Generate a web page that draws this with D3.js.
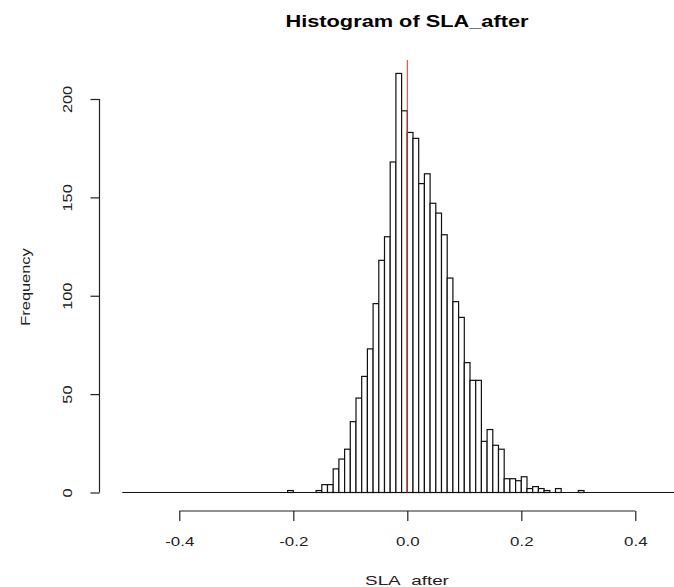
<!DOCTYPE html>
<html>
<head>
<meta charset="utf-8">
<script src="https://cdn.jsdelivr.net/npm/d3@7"></script>
<style>
  body { margin: 0; background: #fff; }
  svg text { font-family: "Liberation Sans", Arial, sans-serif; fill: #222; }
</style>
</head>
<body>
<div id="chart"></div>
<script>
// left edges of the 0.01 wide bins
var binStarts = [-0.21, -0.20, -0.19, -0.18, -0.17, -0.16, -0.15, -0.14, -0.13, -0.12,
                 -0.11, -0.10, -0.09, -0.08, -0.07, -0.06, -0.05, -0.04, -0.03, -0.02,
                 -0.01, 0.00, 0.01, 0.02, 0.03, 0.04, 0.05, 0.06, 0.07, 0.08,
                 0.09, 0.10, 0.11, 0.12, 0.13, 0.14, 0.15, 0.16, 0.17, 0.18,
                 0.19, 0.20, 0.21, 0.22, 0.23, 0.24, 0.25, 0.26, 0.27, 0.28,
                 0.29, 0.30]
var binWidth = 0.01

var counts = [1, 0, 0, 0, 0, 1, 4, 4, 12, 17,
              22, 36, 48, 59, 73, 96, 118, 130, 168, 213,
              194, 183, 180, 157, 162, 147, 142, 131, 109, 97,
              89, 66, 57, 57, 26, 32, 24, 22, 7, 7,
              6, 8, 2, 3, 2, 1, 0, 2, 0, 0,
              0, 1]

var xTicks = [-0.4, -0.2, 0, 0.2, 0.4]
var xTickLabels = ["-0.4", "-0.2", "0.0", "0.2", "0.4"]
var yTicks = [0, 50, 100, 150, 200]
var yTickLabels = ["0", "50", "100", "150", "200"]
var refLine = 0

var W = 674, H = 587

var svg = d3.select("#chart").append("svg").attr("width", W).attr("height", H)

var x = d3.scaleLinear().domain([-0.5, 0.5]).range([122.3, 692.3])
var y = d3.scaleLinear().domain([0, 200]).range([492.5, 99])

// stretch text a bit wider, the original render has wide glyphs
function stretch(sel, k) {
  sel.each(function () {
    var w = this.getComputedTextLength()
    d3.select(this).attr("textLength", w * k).attr("lengthAdjust", "spacingAndGlyphs")
  })
}

// baseline
svg.append("line")
  .attr("x1", x(-0.5)).attr("x2", W)
  .attr("y1", y(0)).attr("y2", y(0))
  .style("stroke", "#111").style("stroke-width", 1.2)

// bars
svg.selectAll("rect.bar")
  .data(counts)
  .enter().append("rect")
  .attr("class", "bar")
  .attr("x", function (d, i) { return x(binStarts[i]) })
  .attr("width", function (d, i) { return x(binStarts[i] + binWidth) - x(binStarts[i]) })
  .attr("y", function (d) { return y(d) })
  .attr("height", function (d) { return y(0) - y(d) })
  .style("fill", "#fff")
  .style("stroke", "#111")
  .style("stroke-width", 1.2)

// red line at zero
svg.append("line")
  .attr("x1", x(refLine)).attr("x2", x(refLine))
  .attr("y1", 60).attr("y2", y(0))
  .style("stroke", "#e03030").style("stroke-width", 1)

// x axis
var xAxis = d3.axisBottom(x)
  .tickValues(xTicks)
  .tickSize(10)
  .tickPadding(16)
  .tickFormat(function (d, i) { return xTickLabels[i] })

var gx = svg.append("g").attr("transform", "translate(0,511)").call(xAxis)
gx.select(".domain").remove()
gx.append("line")
  .attr("x1", x(xTicks[0])).attr("x2", x(xTicks[xTicks.length - 1]))
  .attr("y1", 0).attr("y2", 0)
  .style("stroke", "#222").style("stroke-width", 1.2)
gx.selectAll(".tick line").style("stroke", "#222").style("stroke-width", 1.2)
gx.selectAll(".tick text").style("font-size", "13px").style("fill", "#222")
stretch(gx.selectAll(".tick text"), 1.3)

// y axis
var yAxis = d3.axisLeft(y)
  .tickValues(yTicks)
  .tickSize(9)
  .tickFormat(function (d, i) { return yTickLabels[i] })

var gy = svg.append("g").attr("transform", "translate(99.5,0)").call(yAxis)
gy.select(".domain").remove()
gy.append("line")
  .attr("x1", 0).attr("x2", 0)
  .attr("y1", y(yTicks[0])).attr("y2", y(yTicks[yTicks.length - 1]))
  .style("stroke", "#222").style("stroke-width", 1.2)
gy.selectAll(".tick line").style("stroke", "#222").style("stroke-width", 1.2)
gy.selectAll(".tick text")
  .attr("x", null).attr("dy", null)
  .attr("transform", "translate(-27.5,0) rotate(-90)")
  .style("text-anchor", "middle")
  .style("font-size", "13px").style("fill", "#222")
stretch(gy.selectAll(".tick text"), 1.25)

// title
var title = svg.append("text")
  .attr("x", 407).attr("y", 27)
  .style("text-anchor", "middle")
  .style("font-weight", "bold")
  .style("font-size", "17px")
  .style("fill", "#000")
  .text("Histogram of SLA_after")
stretch(title, 1.28)

// x label
var xlab = svg.append("text")
  .attr("x", 407).attr("y", 585)
  .style("text-anchor", "middle")
  .style("font-size", "13px")
  .text("SLA_after")
stretch(xlab, 1.45)

// y label
var ylab = svg.append("text")
  .attr("transform", "translate(30,287) rotate(-90)")
  .style("text-anchor", "middle")
  .style("font-size", "13px")
  .text("Frequency")
stretch(ylab, 1.26)
</script>
</body>
</html>
